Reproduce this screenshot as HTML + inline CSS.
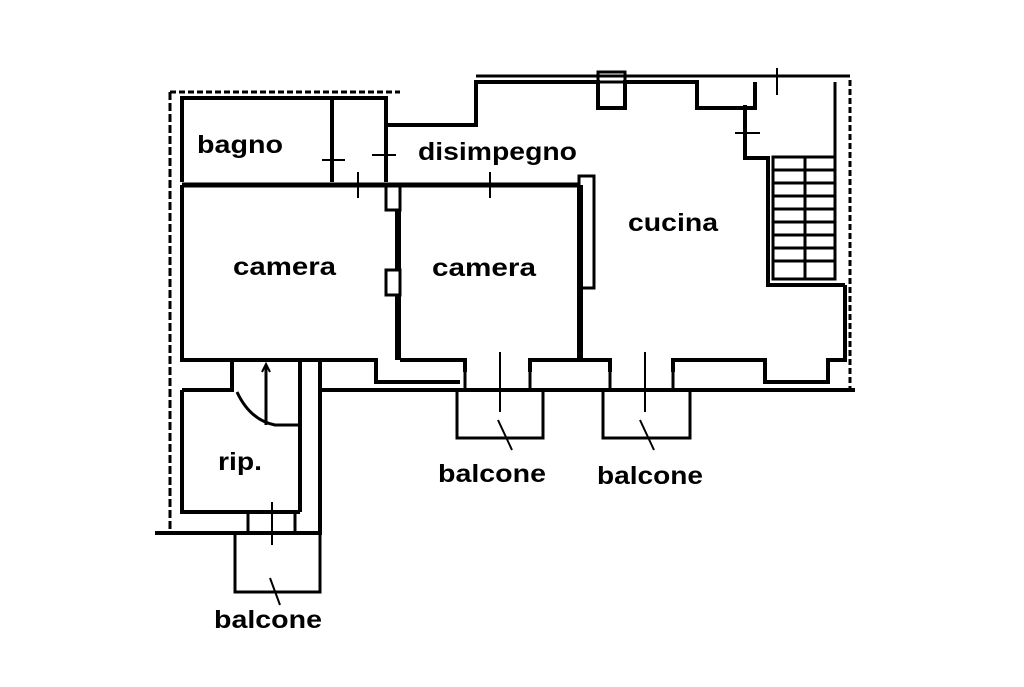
<!DOCTYPE html>
<html><head><style>
html,body{margin:0;padding:0;background:#fff;}
svg text{font-family:"Liberation Sans",sans-serif;font-weight:bold;font-size:25px;fill:#000;}
</style></head><body>
<svg width="1024" height="682" viewBox="0 0 1024 682" xmlns="http://www.w3.org/2000/svg">
<g fill="none" stroke="#000" stroke-width="4">
<path d="M170 92 V530" stroke-dasharray="8 3" stroke-width="3"/>
<path d="M170 92 H400" stroke-dasharray="6 3" stroke-width="3"/>
<path d="M850 80 V390" stroke-dasharray="6 3" stroke-width="3"/>
<path d="M476 76 H850" stroke-width="3"/>
<path d="M182 182 V98 H386 V125"/>
<path d="M332 100 V182"/>
<path d="M182 185 H578" stroke-width="5"/>
<path d="M386 125 H476 V80"/>
<path d="M386 125 V182"/>
<path d="M182 185 V360 H376 V382 H460"/>
<path d="M386 185 H400 V210 H386 Z" stroke-width="3"/>
<path d="M386 270 H400 V295 H386 Z" stroke-width="3"/>
<path d="M398 210 V270 M398 295 V360" stroke-width="6"/>
<path d="M400 360 H465 V372 M530 372 V360 H610 V372 M673 372 V360 H765 V382 H828 V360 H845 V285"/>
<path d="M580 185 V360" stroke-width="6"/>
<rect x="579" y="176" width="15" height="112" stroke-width="3"/>
<path d="M476 82 H598 V108 H625 V82 H697 V108 H755 V82"/>
<rect x="598" y="72" width="27" height="10" stroke-width="3"/>
<path d="M745 105 V158 H768 V285 H845"/>
<path d="M835 82 V157" stroke-width="3"/>
<path d="M845 285 V360"/>
<rect x="773" y="157" width="62" height="122" stroke-width="3"/>
<path d="M773 170 H835 M773 183 H835 M773 196 H835 M773 209 H835 M773 222 H835 M773 235 H835 M773 248 H835 M773 261 H835" stroke-width="3"/>
<path d="M805 157 V279" stroke-width="3"/>
<path d="M320 390 H855" stroke-width="4"/>
<path d="M465 372 V388 M530 372 V388 M610 372 V388 M673 372 V388" stroke-width="3"/>
<path d="M182 390 V512 H300 M182 390 H232 V360 M300 390 V512"/>
<path d="M232 360 H300 M300 360 H320 V535" />
<path d="M300 360 V512"/>
<path d="M155 533 H320" stroke-width="4"/>
<path d="M248 512 V533 M295 512 V533" stroke-width="3"/>
<path d="M237 392 Q250 420 275 425 H298" stroke-width="3"/>
<path d="M266 365 V425" stroke-width="3"/>
<path d="M262 372 L266 364 L270 372" stroke-width="2"/>
<path d="M457 390 V438 H543 V390" stroke-width="3"/>
<path d="M603 390 V438 H690 V390" stroke-width="3"/>
<path d="M235 535 V592 H320 V535" stroke-width="3"/>
<g stroke-width="2">
<path d="M332 150 V180 M322 160 H345"/>
<path d="M386 148 V178 M372 155 H396"/>
<path d="M358 172 V198"/>
<path d="M490 172 V198"/>
<path d="M745 120 V150 M735 133 H760"/>
<path d="M777 68 V95"/>
<path d="M500 352 V412 M645 352 V412 M272 502 V545"/>
<path d="M498 420 L512 450 M640 420 L654 450 M270 578 L280 605"/>
</g>
</g>
<text x="197" y="153" textLength="86" lengthAdjust="spacingAndGlyphs">bagno</text>
<text x="418" y="160" textLength="159" lengthAdjust="spacingAndGlyphs">disimpegno</text>
<text x="628" y="231" textLength="90" lengthAdjust="spacingAndGlyphs">cucina</text>
<text x="233" y="275" textLength="103" lengthAdjust="spacingAndGlyphs">camera</text>
<text x="432" y="276" textLength="104" lengthAdjust="spacingAndGlyphs">camera</text>
<text x="218" y="470" textLength="44" lengthAdjust="spacingAndGlyphs">rip.</text>
<text x="438" y="482" textLength="108" lengthAdjust="spacingAndGlyphs">balcone</text>
<text x="597" y="484" textLength="106" lengthAdjust="spacingAndGlyphs">balcone</text>
<text x="214" y="628" textLength="108" lengthAdjust="spacingAndGlyphs">balcone</text>
</svg>
</body></html>
